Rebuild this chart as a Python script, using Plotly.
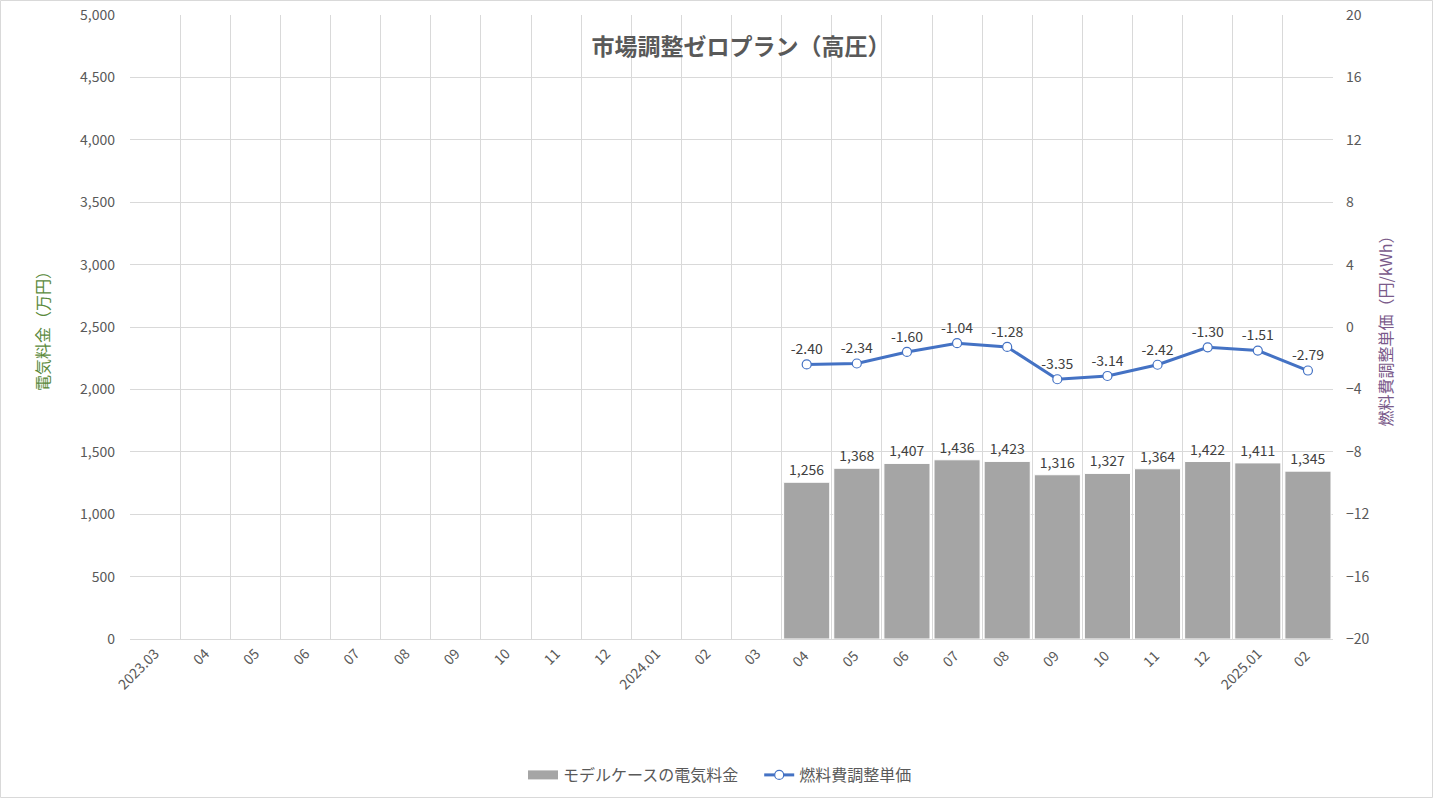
import plotly.graph_objects as go

categories = ["2023.03", "04", "05", "06", "07", "08", "09", "10", "11", "12",
              "2024.01", "02", "03", "04 ", "05 ", "06 ", "07 ", "08 ", "09 ", "10 ",
              "11 ", "12 ", "2025.01", "02 "]
bar_values = [None] * 13 + [1256, 1368, 1407, 1436, 1423, 1316, 1327, 1364, 1422, 1411, 1345]
line_values = [None] * 13 + [-2.40, -2.34, -1.60, -1.04, -1.28, -3.35, -3.14, -2.42, -1.30, -1.51, -2.79]

FONT = "Noto Sans CJK JP"
W, H = 1434, 799
ML, MR, MT, MB = 130, 101, 15, 160
PW, PH = W - ML - MR, H - MT - MB

fig = go.Figure()
fig.add_trace(go.Bar(
    x=categories, y=bar_values, name="モデルケースの電気料金", showlegend=False,
    marker=dict(color="#A5A5A5", line=dict(color="#FFFFFF", width=1)),
    text=[f"{v:,}" if v is not None else "" for v in bar_values],
    textposition="outside", cliponaxis=False,
    textfont=dict(family=FONT, size=14, color="#404040"),
    yaxis="y",
))
# legend stand-in for the bar series (wide grey swatch)
fig.add_trace(go.Scatter(
    x=[None], y=[None], name="モデルケースの電気料金\u3000", mode="lines",
    line=dict(color="#A5A5A5", width=9), yaxis="y", hoverinfo="skip",
))
fig.add_trace(go.Scatter(
    x=categories, y=line_values, name="燃料費調整単価",
    mode="lines+markers+text",
    line=dict(color="#4472C4", width=3),
    marker=dict(symbol="circle", size=9, color="#FFFFFF", line=dict(color="#4472C4", width=1.2)),
    text=[f"{v:.2f}" if v is not None else "" for v in line_values],
    textposition="top center",
    textfont=dict(family=FONT, size=14, color="#404040"),
    yaxis="y2", cliponaxis=False,
))

fig.update_layout(
    width=W, height=H,
    margin=dict(l=ML, r=MR, t=MT, b=MB, autoexpand=False),
    paper_bgcolor="#FFFFFF", plot_bgcolor="#FFFFFF",
    font=dict(family=FONT, color="#595959"),
    bargap=0.08,
    showlegend=True,
    legend=dict(orientation="h", xref="container", x=720 / W, xanchor="center",
                yref="container", y=1 - 775 / H, yanchor="middle",
                font=dict(family=FONT, size=16, color="#595959"), traceorder="normal",
                itemwidth=30, tracegroupgap=0),
    title=dict(text="<b>市場調整ゼロプラン（高圧）</b>", xref="container", x=741 / W,
               xanchor="center", yref="container", y=1 - 47 / H, yanchor="middle",
               font=dict(family=FONT, size=23, color="#595959")),
    xaxis=dict(
        type="category", range=[-0.5, 23.5], autorange=False,
        tickson="boundaries", showgrid=True, gridcolor="#D9D9D9", gridwidth=1,
        showline=True, linecolor="#D9D9D9", linewidth=1, ticks="", tickangle=-45,
        tickfont=dict(family=FONT, size=14, color="#595959"), automargin=False,
    ),
    yaxis=dict(
        range=[0, 5000], dtick=500, tickformat=",", showgrid=True, gridcolor="#D9D9D9",
        zeroline=False, showline=False, ticks="", ticklabelstandoff=14, automargin=False,
        tickfont=dict(family=FONT, size=14, color="#595959"),
        title=dict(text="電気料金（万円）", font=dict(family=FONT, size=16, color="#5B8A3C"), standoff=26),
    ),
    yaxis2=dict(
        range=[-20, 20], dtick=4, overlaying="y", side="right", showgrid=False,
        zeroline=False, showline=False, ticks="", ticklabelstandoff=12, automargin=False,
        tickfont=dict(family=FONT, size=14, color="#595959"),
        title=dict(text="燃料費調整単価（円/kWh）", font=dict(family=FONT, size=16, color="#7A5A8A"), standoff=12),
    ),
)

# outer chart border
fig.add_shape(type="rect", xref="paper", yref="paper",
              x0=(-ML + 0.5) / PW, x1=(W - ML - 1.5) / PW,
              y0=(-MB + 1.5) / PH, y1=(H - MB - 0.5) / PH,
              line=dict(color="#D9D9D9", width=1), fillcolor="rgba(0,0,0,0)", layer="below")

fig.write_html("out.html", config={"displayModeBar": False},
               post_script="document.body.style.margin='0';document.body.style.overflow='hidden';")
